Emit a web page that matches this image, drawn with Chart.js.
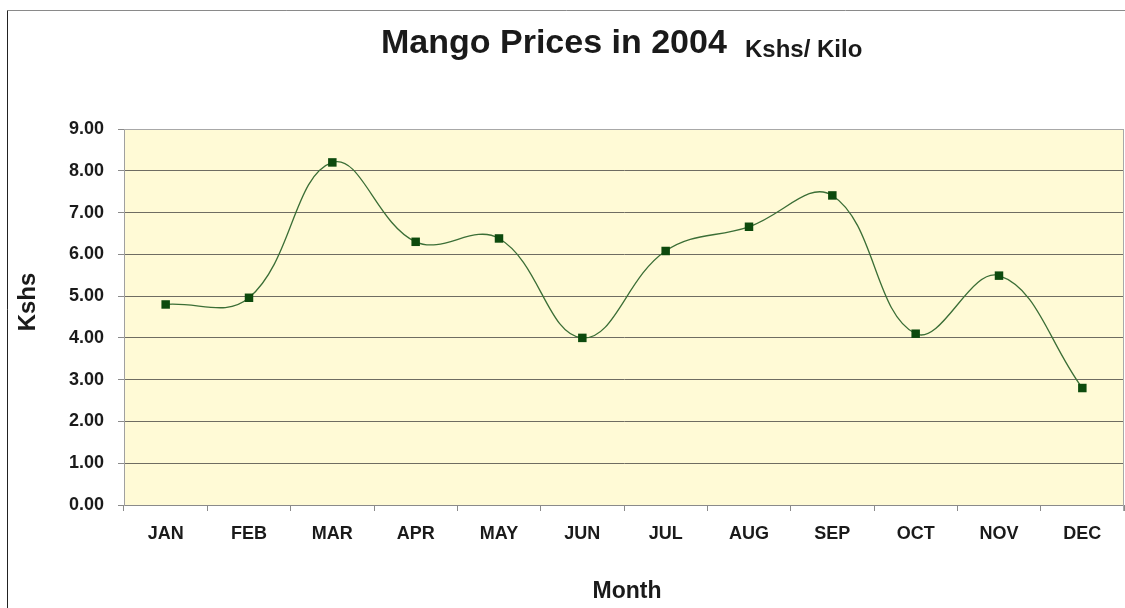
<!DOCTYPE html>
<html>
<head>
<meta charset="utf-8">
<script src="https://cdn.jsdelivr.net/npm/chart.js@4.4.1/dist/chart.umd.min.js"></script>
<style>
  html, body { margin: 0; padding: 0; background: #ffffff; }
  #wrap { position: relative; width: 1125px; height: 608px; }
  canvas { display: block; }
</style>
</head>
<body>
<div id="wrap"><canvas id="c" width="1125" height="608"></canvas></div>
<script>
// ---- data ----
const months = ["JAN","FEB","MAR","APR","MAY","JUN","JUL","AUG","SEP","OCT","NOV","DEC"];
const prices = [4.80, 4.96, 8.20, 6.30, 6.38, 4.00, 6.08, 6.66, 7.41, 4.10, 5.49, 2.80];
const yTicks = [0, 1, 2, 3, 4, 5, 6, 7, 8, 9];
const titleMain = "Mango Prices in 2004";
const titleSub = "Kshs/ Kilo";
const xTitle = "Month";
const yTitle = "Kshs";

const FONT = "'Liberation Sans', Arial, sans-serif";

const decor = {
  id: 'decor',
  beforeDraw(chart) {
    const ctx = chart.ctx;
    const a = chart.chartArea;
    ctx.save();
    ctx.fillStyle = '#fffad6';
    ctx.fillRect(a.left, a.top, a.right - a.left, a.bottom - a.top);
    ctx.restore();
  },
  afterDraw(chart) {
    const ctx = chart.ctx;
    const a = chart.chartArea;
    ctx.save();
    // outer frame
    ctx.strokeStyle = '#8a8a8a';
    ctx.lineWidth = 1;
    ctx.beginPath();
    ctx.moveTo(7.5, 10.5); ctx.lineTo(1125, 10.5);
    ctx.stroke();
    ctx.strokeStyle = '#222222';
    ctx.beginPath();
    ctx.moveTo(7.5, 10.5); ctx.lineTo(7.5, 608);
    ctx.stroke();
    // plot border
    ctx.strokeStyle = '#a8a8a8';
    ctx.beginPath();
    ctx.moveTo(a.left, a.top + 0.5); ctx.lineTo(a.right, a.top + 0.5);
    ctx.moveTo(a.right - 0.5, a.top); ctx.lineTo(a.right - 0.5, a.bottom + 6);
    ctx.stroke();

    // title
    ctx.fillStyle = '#1a1a1a';
    ctx.textBaseline = 'alphabetic';
    ctx.textAlign = 'left';
    ctx.font = 'bold 34px ' + FONT;
    ctx.fillText(titleMain, 381, 53);
    const w1 = ctx.measureText(titleMain).width;
    ctx.font = 'bold 24px ' + FONT;
    ctx.fillText(titleSub, Math.max(745, 381 + w1 + 14), 57);

    // axis titles
    ctx.font = 'bold 23px ' + FONT;
    ctx.textAlign = 'center';
    ctx.textBaseline = 'middle';
    ctx.fillText(xTitle, 627, 592);
    ctx.save();
    ctx.translate(28, 302);
    ctx.rotate(-Math.PI / 2);
    ctx.font = 'bold 24px ' + FONT;
    ctx.fillText(yTitle, 0, 0);
    ctx.restore();
    ctx.restore();
  }
};

new Chart(document.getElementById('c'), {
  type: 'line',
  data: {
    labels: months,
    datasets: [{
      data: prices,
      borderColor: '#3b6e36',
      borderWidth: 1.3,
      tension: 0.4,
      pointStyle: 'rect',
      pointRadius: 6,
      pointHoverRadius: 6,
      pointBackgroundColor: '#0d4a0d',
      pointBorderColor: '#0d4a0d',
      pointBorderWidth: 0,
      fill: false
    }]
  },
  options: {
    responsive: false,
    animation: false,
    devicePixelRatio: 1,
    layout: { autoPadding: false, padding: { top: 129, right: 1, left: 0, bottom: 0 } },
    plugins: { legend: { display: false }, title: { display: false }, tooltip: { enabled: false } },
    scales: {
      x: {
        offset: true,
        grid: { display: true, offset: true, drawOnChartArea: false, drawTicks: true, tickLength: 6, color: '#8a8a8a' },
        border: { display: true, color: '#8a8a8a' },
        ticks: { color: '#1a1a1a', font: { family: FONT, size: 18, weight: 'bold' }, padding: 12, maxRotation: 0, autoSkip: false },
        afterFit(s) { s.height = 103; s.paddingLeft = 0; s.paddingRight = 0; }
      },
      y: {
        min: 0, max: 9,
        afterBuildTicks(s) { s.ticks = yTicks.map(v => ({ value: v })); },
        grid: { color: '#6f6c62', tickLength: 6, drawTicks: true, tickColor: '#8a8a8a' },
        border: { display: true, color: '#a0a0a0' },
        ticks: { color: '#1a1a1a', font: { family: FONT, size: 18, weight: 'bold' }, padding: 14, callback: v => Number(v).toFixed(2) },
        afterFit(s) { s.width = 124; s.paddingTop = 0; s.paddingBottom = 0; }
      }
    }
  },
  plugins: [decor]
});
</script>
</body>
</html>
